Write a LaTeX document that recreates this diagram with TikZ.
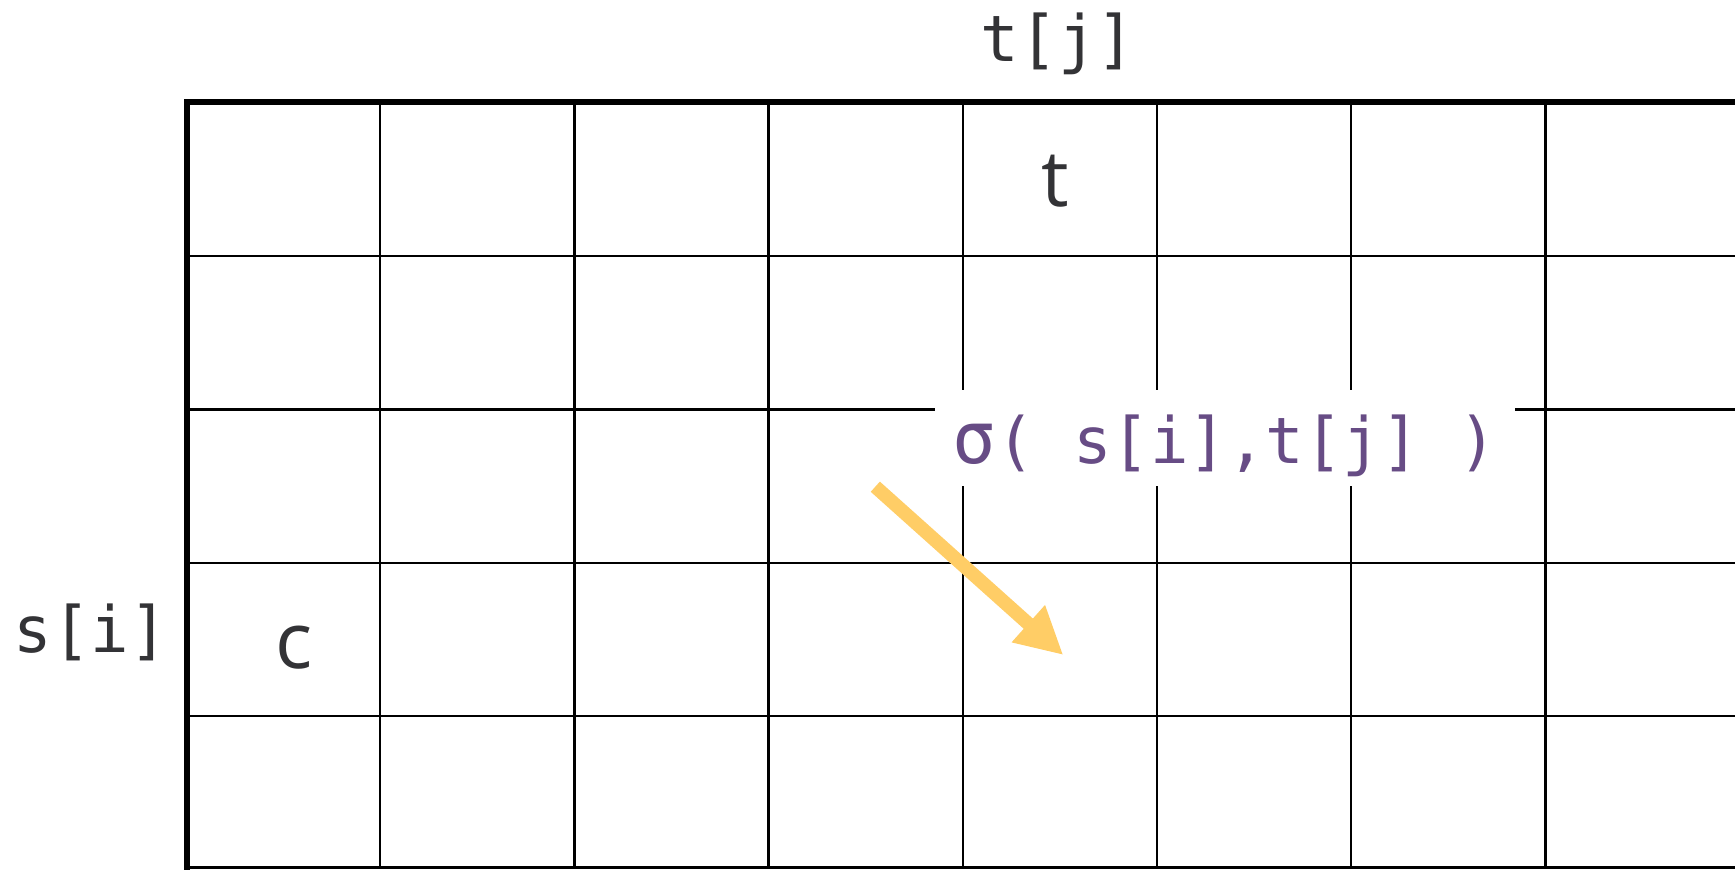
\documentclass[tikz,border=0pt]{standalone}
\usepackage{fontspec}
\setmainfont{Open Sans}
\newfontfamily\monofont{DejaVu Sans Mono}
\usetikzlibrary{arrows.meta}
\definecolor{txtgray}{RGB}{51,51,54}
\definecolor{sigpurple}{RGB}{103,76,133}
\definecolor{arrowyellow}{RGB}{255,205,102}
\begin{document}
\begin{tikzpicture}[x=0.5pt,y=-0.5pt,
  thingrid/.style={line width=1.2pt,black},
  thickgrid/.style={line width=3pt,black,line join=miter},
  monolabel/.style={font=\monofont\fontsize{32}{38}\selectfont,text=txtgray},
  celltext/.style={font=\fontsize{39}{46}\selectfont,text=txtgray},
  sigmabox/.style={fill=white,font=\monofont\fontsize{32}{38}\selectfont,text=sigpurple,
    minimum width=290pt,minimum height=48pt,inner xsep=0pt,inner ysep=1.5pt,
    text height=35pt,text depth=10pt},
  bigarrow/.style={draw=arrowyellow,line width=6.85pt,-{Triangle[length=23.5pt,width=23.25pt]}}]
\useasboundingbox (0,0) rectangle (1735,869);
\begin{scope}
  \clip (0,0) rectangle (1735,869);
  \foreach \y in {255.8,409.3,562.7,716,867.5}
    \draw[thingrid] (186,\y) -- (1735,\y);
  \foreach \x in {380.2,574.4,768.6,962.8,1157,1351.2,1545.4}
    \draw[thingrid] (\x,102) -- (\x,869);
  \draw[thickgrid] (186.6,872) -- (186.6,102.2) -- (1740,102.2);
\end{scope}
\node[monolabel] (tj) at (1058,44) {t[j]};
\node[monolabel] (si) at (91,632) {s[i]};
\node[celltext] (tcell) at (1055.5,181) {t};
\node[celltext] (ccell) at (294.5,648) {c};
\coordinate (atail) at (875.3,486.7);
\coordinate (ahead) at (1063.3,655);
\draw[bigarrow] (atail) -- (ahead);
\node[sigmabox] (sigma) at (1225,438) {{\fontsize{36}{38}\selectfont σ}( s[i],t[j] )};
\end{tikzpicture}
\end{document}
